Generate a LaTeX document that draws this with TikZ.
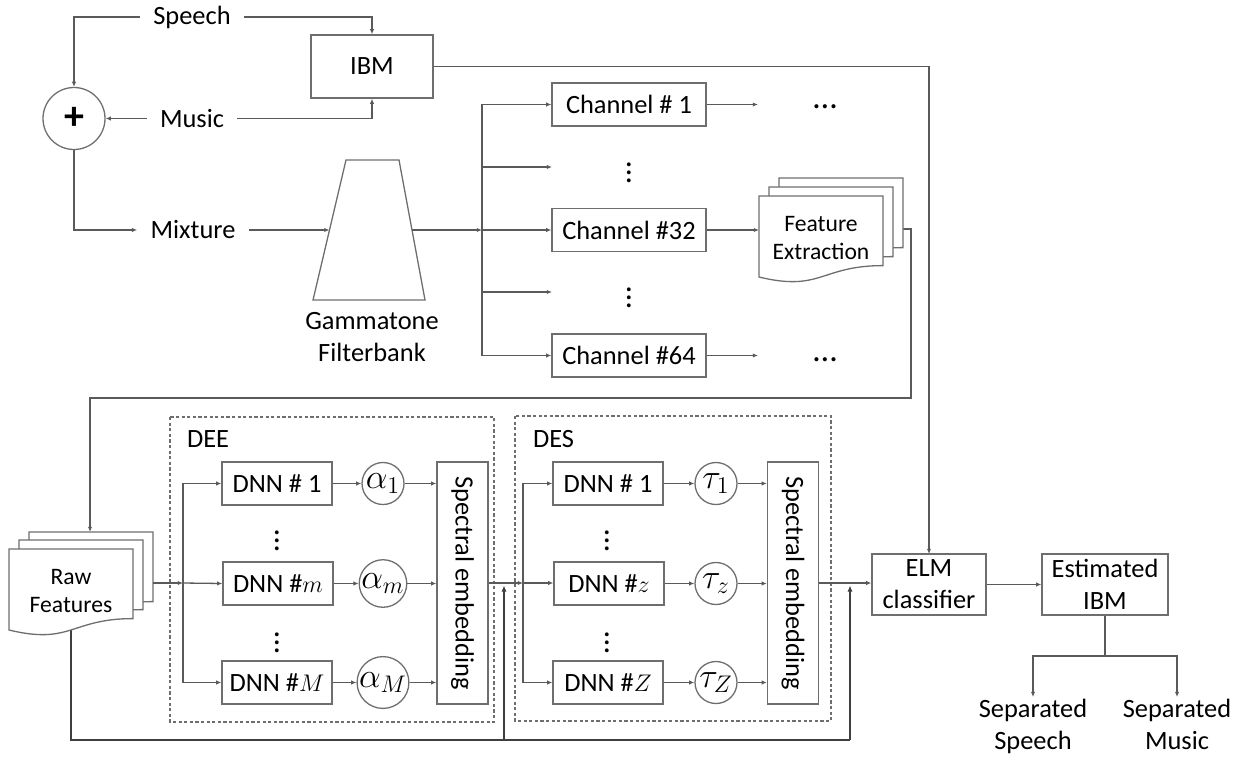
\documentclass[tikz,border=0pt]{standalone}
\usepackage{fontspec}
\setmainfont{Carlito}
\usetikzlibrary{arrows.meta,calc}

\definecolor{wire}{HTML}{5A5A5A}
\definecolor{frame}{HTML}{6E6E6E}

\tikzset{
  wire/.style={draw=wire, line width=0.65pt},
  arr/.style={wire, -{Latex[length=2.6pt,width=2.2pt]}},
  retline/.style={draw=wire!70!black, line width=0.9pt},
  retarr/.style={retline, -{Latex[length=3pt,width=2.6pt]}},
  txt/.style={font=\fontsize{13.2}{16}\selectfont, align=center},
  lbl/.style={txt, inner xsep=6.5pt, inner ysep=2pt},
  dots/.style={font=\fontsize{16}{16}\selectfont, inner sep=0pt},
  hdots/.style={font=\fontsize{17}{17}\selectfont, inner sep=0pt, anchor=base},
  box/.style={txt, draw=frame, line width=0.65pt, rectangle, inner sep=0pt},
  chanbox/.style={box, minimum width=77pt, minimum height=21.5pt},
  dnnbox/.style={box, minimum width=55pt, minimum height=21.5pt},
  specbox/.style={box, minimum width=25.5pt, minimum height=121pt},
  weight/.style={font=\fontsize{16.5}{17}\selectfont, draw=frame, line width=0.65pt, circle, inner sep=0pt, minimum size=21pt},
  groupbox/.style={draw=frame, line width=0.55pt, dash pattern=on 1.6pt off 1.2pt},
  docsheet/.style={draw=frame, line width=0.65pt, fill=white},
  doctext/.style={font=\fontsize{11.8}{14.2}\selectfont, align=center},
}

% one sheet of a document stack, top-left corner at (#1,#2)
\newcommand{\docsheet}[2]{%
  \begin{scope}[shift={(#1,#2)}]
    \filldraw[docsheet] (0,0) -- (124,0) -- (124,69.6)
      .. controls (62,69.6) and (62,96.1) .. (0,81) -- cycle;
  \end{scope}}

\begin{document}
\begin{tikzpicture}[x=0.5pt,y=-0.5pt]
\useasboundingbox (0,0) rectangle (1246,760);

% ---------------- source signals ----------------
\node[weight, minimum size=31pt] (plus) at (74,118.5) {\fontsize{20}{20}\selectfont\bfseries +};
\node[lbl] (speech) at (192,17) {Speech};
\node[lbl] (music) at (192,118.5) {Music};
\node[lbl] (mixture) at (193,230) {Mixture};
\node[box, minimum width=61pt, minimum height=31.5pt] (ibm) at (372,66.5) {IBM};

\draw[arr] (speech.west) -| (plus.north);
\draw[arr] (speech.east) -| (ibm.north);
\draw[arr] (music.west) -- (plus.east);
\draw[arr] (music.east) -| (ibm.south);
\draw[arr] (plus.south) |- (mixture.west);

% ---------------- gammatone filterbank ----------------
\draw[draw=frame, line width=0.65pt] (346,160) -- (399,160) -- (425,300) -- (313,300) -- cycle;
\coordinate (gfbin) at (329.5,230);
\coordinate (gfbout) at (412,230);
\node[txt] (gfblabel) at (372,337) {Gammatone\\Filterbank};
\draw[arr] (mixture.east) -- (gfbin);

% ---------------- channels ----------------
\coordinate (chbus) at (482,230);
\node[chanbox] (ch1) at (629,104.5) {Channel \# 1};
\node[chanbox] (ch32) at (629,230) {Channel \#32};
\node[chanbox] (ch64) at (629,355.5) {Channel \#64};
\node[dots] (vd1) at (629,167) {$\vdots$};
\node[dots] (vd2) at (629,292) {$\vdots$};
\coordinate (vd1in) at (552,167);
\coordinate (vd2in) at (552,292);

\draw[arr] (gfbout) -- (chbus);
\draw[arr] (chbus) |- (ch1.west);
\draw[arr] (chbus) |- (vd1in);
\draw[arr] (chbus) -- (ch32.west);
\draw[arr] (chbus) |- (vd2in);
\draw[arr] (chbus) |- (ch64.west);

\node[hdots] (hd1) at (825,108) {…};
\node[hdots] (hd2) at (825,361) {…};
\coordinate (hd1in) at (758,104.5);
\coordinate (hd2in) at (758,355.5);
\draw[arr] (ch1.east) -- (hd1in);
\draw[arr] (ch64.east) -- (hd2in);

% ---------------- feature extraction ----------------
\coordinate (fein) at (759,230);
\coordinate (feout) at (903,229);
\coordinate (febend) at (911,398);
\coordinate (rawtop) at (90,532);
\draw[arr] (ch32.east) -- (fein);
\draw[arr] (feout) -| (febend) -| (rawtop);
\draw[arr] (ibm.east) -| (929,554);

\docsheet{779}{178}
\docsheet{769}{187}
\docsheet{759}{196}
\node[doctext] (fe) at (821,238) {Feature\\Extraction};

% ---------------- raw features + feedback line ----------------
\coordinate (rawout) at (153,583);
\coordinate (deebus) at (183,583);
\coordinate (desbus) at (523,583);
\coordinate (retstart) at (71,620);
\coordinate (retA) at (504,740);
\coordinate (retB) at (850,740);

\draw[retline] (retstart) |- (retB);
\draw[retarr] (retA) -- (504,585.5);
\draw[retarr] (retB) -- (850,585.5);

\docsheet{29}{532}
\docsheet{19}{540}
\docsheet{9}{549}
\node[doctext] (raw) at (71,591) {Raw\\Features};

% ---------------- DEE ----------------
\draw[groupbox] (170,417) rectangle (494,722);
\node[txt, anchor=west] (deelabel) at (180,439) {DEE};

\node[dnnbox] (dA1) at (277,483.5) {DNN \# 1};
\node[dnnbox] (dAm) at (278,583.5) {DNN \#$m$};
\node[dnnbox] (dAM) at (277,682.5) {DNN \#$M$};
\node[dots] (vdA1) at (277,535) {$\vdots$};
\node[dots] (vdA2) at (277,637) {$\vdots$};
\node[weight] (a1) at (383,483.5) {$\alpha_1$};
\node[weight] (am) at (383,583.5) {$\alpha_m$};
\node[weight] (aM) at (383,682.5) {$\alpha_M$};
\node[specbox] (specA) at (462.5,583) {};
\node[txt, rotate=-90] at (specA.center) {Spectral embedding};

\draw[arr] (rawout) -- (deebus);
\draw[arr] (deebus) |- (dA1.west);
\draw[arr] (deebus) -- (dAm.west);
\draw[arr] (deebus) |- (dAM.west);
\foreach \d/\w in {dA1/a1, dAm/am, dAM/aM}{
  \draw[arr] (\d.east) -- (\w.west);
  \draw[arr] (\w.east) -- (\w.east -| specA.west);
}

% ---------------- DES ----------------
\draw[groupbox] (515,416) rectangle (831,721);
\node[txt, anchor=west] (deslabel) at (526,439) {DES};

\node[dnnbox] (dB1) at (608,483.5) {DNN \# 1};
\node[dnnbox] (dBz) at (609,583.5) {DNN \#$z$};
\node[dnnbox] (dBZ) at (608,682.5) {DNN \#$Z$};
\node[dots] (vdB1) at (607,535) {$\vdots$};
\node[dots] (vdB2) at (607,637) {$\vdots$};
\node[weight] (t1) at (716,483.5) {$\tau_1$};
\node[weight] (tz) at (716,583.5) {$\tau_z$};
\node[weight] (tZ) at (716,682.5) {$\tau_Z$};
\node[specbox] (specB) at (793,583) {};
\node[txt, rotate=-90] at (specB.center) {Spectral embedding};

\draw[arr] (specA.east) -- (desbus);
\draw[arr] (desbus) |- (dB1.west);
\draw[arr] (desbus) -- (desbus -| dBz.west);
\draw[arr] (desbus) |- (dBZ.west);
\foreach \d/\w in {dB1/t1, dBz/tz, dBZ/tZ}{
  \draw[arr] (\d.east) -- (\d.east -| \w.west);
  \draw[arr] (\w.east) -- (\w.east -| specB.west);
}

% ---------------- classifier and outputs ----------------
\node[box, minimum width=57pt, minimum height=30.5pt] (elm) at (929,584.5) {ELM\\classifier};
\node[box, minimum width=63pt, minimum height=30.5pt] (est) at (1105,584.5) {Estimated\\IBM};
\draw[arr] (specB.east) -- (specB.east -| elm.west);
\draw[arr] (elm.east) -- (est.west);

\node[txt, anchor=north, inner ysep=1pt] (sepS) at (1033,697) {Separated\\Speech};
\node[txt, anchor=north, inner ysep=1pt] (sepM) at (1177,697) {Separated\\Music};
\coordinate (split) at (1105,656);
\draw[wire] (est.south) -- (split);
\draw[arr] (split) -| (sepS.north);
\draw[arr] (split) -| (sepM.north);

\end{tikzpicture}
\end{document}
